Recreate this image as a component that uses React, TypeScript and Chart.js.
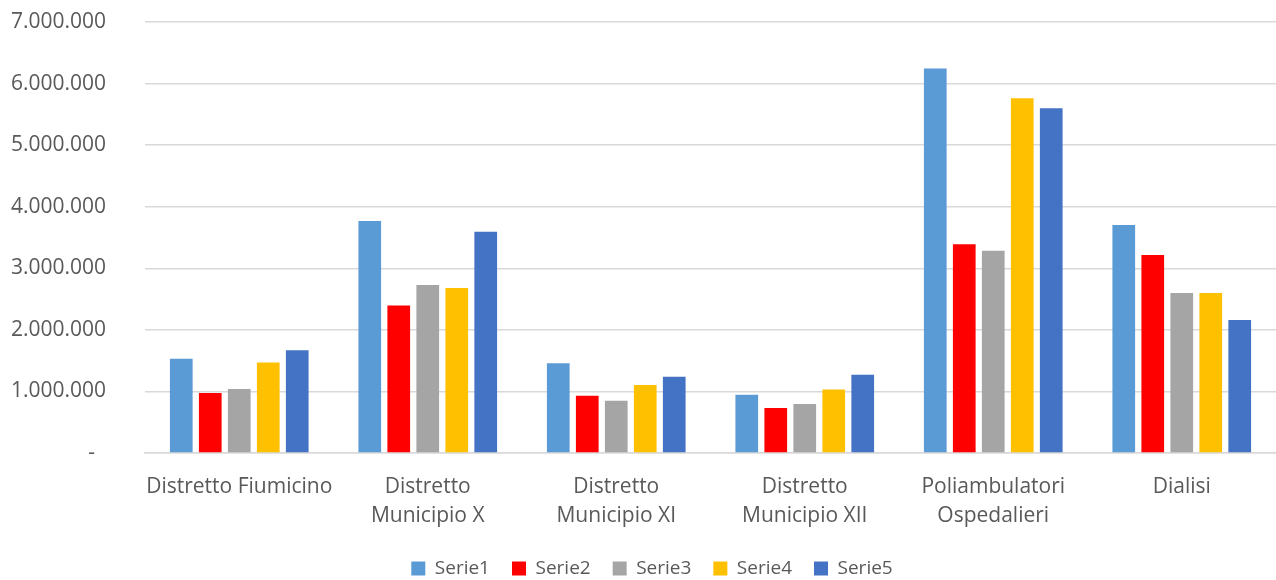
import React, { useEffect, useRef } from "react";
import { Chart, registerables } from "chart.js";

Chart.register(...registerables);

const categories: (string | string[])[] = [
  "Distretto Fiumicino",
  ["Distretto", "Municipio X"],
  ["Distretto", "Municipio XI"],
  ["Distretto", "Municipio XII"],
  ["Poliambulatori", "Ospedalieri"],
  "Dialisi",
];

const serie1 = [1530000, 3767000, 1457000, 948000, 6243000, 3705000];
const serie2 = [976000, 2395000, 930000, 730000, 3390000, 3215000];
const serie3 = [1040000, 2730000, 850000, 797000, 3285000, 2600000];
const serie4 = [1470000, 2680000, 1105000, 1030000, 5760000, 2600000];
const serie5 = [1670000, 3595000, 1240000, 1270000, 5600000, 2160000];

const seriesNames = ["Serie1", "Serie2", "Serie3", "Serie4", "Serie5"];
const seriesColors = ["#5B9BD5", "#FF0000", "#A5A5A5", "#FFC000", "#4472C4"];

const yMax = 7000000;
const yStep = 1000000;

function fmt(v: number): string {
  if (v === 0) return "-  ";
  return Math.round(v)
    .toString()
    .replace(/\B(?=(\d{3})+(?!\d))/g, ".");
}

const FONT = "'Open Sans', sans-serif";

const legendShift = {
  id: "legendShift",
  afterLayout(chart: any) {
    const lg = chart.legend;
    if (lg) {
      lg.left += 14;
      lg.right += 14;
    }
  },
};

export default function App() {
  const ref = useRef<HTMLCanvasElement | null>(null);
  useEffect(() => {
    document.body.style.margin = "0";
    const data = [serie1, serie2, serie3, serie4, serie5];
    const chart = new Chart(ref.current!, {
      type: "bar",
      data: {
        labels: categories,
        datasets: data.map((d, i) => ({
          label: seriesNames[i],
          data: d,
          backgroundColor: seriesColors[i],
          borderWidth: 0,
          categoryPercentage: 0.769,
          barPercentage: 0.783,
        })),
      },
      plugins: [legendShift],
      options: {
        animation: false,
        responsive: false,
        maintainAspectRatio: false,
        layout: { padding: { top: 22, right: 0, left: 0, bottom: -8 } },
        plugins: {
          tooltip: { enabled: false },
          legend: {
            position: "bottom",
            labels: {
              color: "#595959",
              font: { family: FONT, size: 19 },
              boxWidth: 14,
              boxHeight: 14,
              padding: 22,
            },
          },
        },
        scales: {
          x: {
            grid: { display: false, drawTicks: false },
            border: { display: true, color: "#D9D9D9", width: 1.5 },
            ticks: {
              color: "#595959",
              font: { family: FONT, size: 21, lineHeight: 1.4 },
              padding: 19,
              maxRotation: 0,
              autoSkip: false,
            },
            afterFit: (s: any) => {
              s.height = 84;
            },
          },
          y: {
            min: 0,
            max: yMax,
            grid: {
              color: "#D9D9D9",
              lineWidth: 1.5,
              drawTicks: true,
              tickLength: 36,
              tickColor: "rgba(0,0,0,0)",
            },
            border: { display: false },
            ticks: {
              stepSize: yStep,
              color: "#595959",
              font: { family: FONT, size: 21 },
              padding: 3,
              callback: (v: any) => fmt(Number(v)),
            },
            afterFit: (s: any) => {
              s.width = 145;
            },
          },
        },
      },
    });
    return () => chart.destroy();
  }, []);
  return <canvas ref={ref} width={1276} height={580} style={{ display: "block" }} />;
}
